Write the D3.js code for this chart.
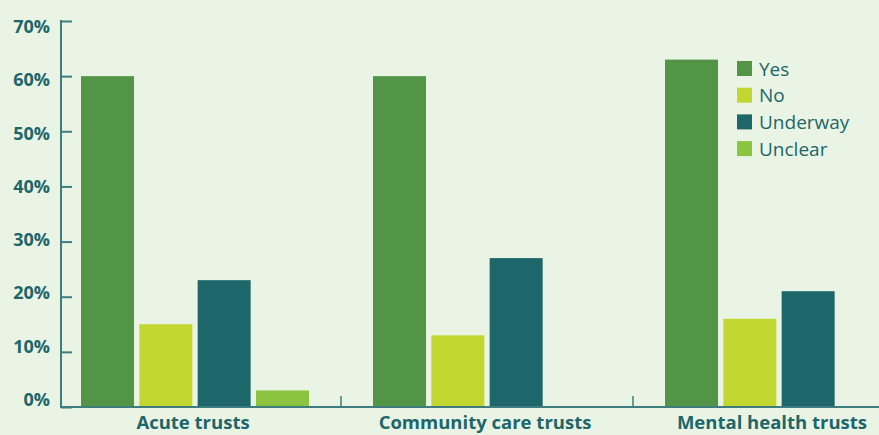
<!DOCTYPE html>
<html>
<head>
<meta charset="utf-8">
<script src="https://cdn.jsdelivr.net/npm/d3@7"></script>
<style>
  html, body { margin: 0; padding: 0; background: #eaf4e4; }
  svg { display: block; }
  text { font-family: "Open Sans", "DejaVu Sans", sans-serif; fill: #1d6669; }
</style>
</head>
<body>
<svg id="chart" width="879" height="435"></svg>
<script>
// Trust types along the x axis
const categories = ["Acute trusts", "Community care trusts", "Mental health trusts"];
// Response series, in legend order
const seriesNames = ["Yes", "No", "Underway", "Unclear"];
const seriesColors = ["#529546", "#c1d72f", "#1d6669", "#8bc43f"];
// Percentage of trusts per series, one value per category
const yesValues      = [60, 60, 63];
const noValues       = [15, 13, 16];
const underwayValues = [23, 27, 21];
const unclearValues  = [3, 0, 0];
// Y axis ticks
const yTicks = [0, 10, 20, 30, 40, 50, 60, 70];
const yTickLabels = ["0%", "10%", "20%", "30%", "40%", "50%", "60%", "70%"];

const seriesValues = [yesValues, noValues, underwayValues, unclearValues];
const rows = categories.map((c, i) => ({
  category: c,
  values: seriesNames.map((s, j) => ({ series: s, value: seriesValues[j][i] }))
}));

const svg = d3.select("#chart");
const W = 879, H = 435;
const axisColor = "#3f7c7d";

const y = d3.scaleLinear().domain([0, 70]).range([407, 21]);
// tick labels sit on a slightly tighter grid than the ticks themselves
const yLabel = d3.scaleLinear().domain([0, 70]).range([399.5, 26.5]);

const x0 = d3.scaleBand().domain(categories).range([49, 925]).paddingInner(0).paddingOuter(0);
const x1 = d3.scaleBand().domain(seriesNames).range([32, 260]).paddingInner(0.091).paddingOuter(0);
const color = d3.scaleOrdinal().domain(seriesNames).range(seriesColors);

// bars
const groups = svg.append("g").selectAll("g")
  .data(rows).join("g")
  .attr("transform", d => `translate(${x0(d.category)},0)`);

groups.selectAll("rect")
  .data(d => d.values.filter(v => v.value > 0))
  .join("rect")
  .attr("x", d => x1(d.series))
  .attr("width", x1.bandwidth())
  .attr("y", d => y(d.value))
  .attr("height", d => y(0) - y(d.value))
  .attr("fill", d => color(d.series));

// y axis: line plus inward ticks
const yAxis = svg.append("g")
  .attr("transform", "translate(61,0)")
  .call(d3.axisRight(y).tickValues(yTicks).tickSize(11).tickFormat(""));
yAxis.select(".domain").remove();
yAxis.selectAll(".tick line").attr("stroke", axisColor).attr("stroke-width", 2);
svg.append("line")
  .attr("x1", 61).attr("x2", 61)
  .attr("y1", y(70) - 1).attr("y2", y(0))
  .attr("stroke", axisColor).attr("stroke-width", 2);

svg.append("g").selectAll("text")
  .data(yTicks).join("text")
  .attr("x", 50)
  .attr("y", d => yLabel(d))
  .attr("dy", "0.36em")
  .attr("text-anchor", "end")
  .attr("font-size", 18)
  .attr("font-weight", 700)
  .text((d, i) => yTickLabels[i]);

// x axis baseline and separators between categories
svg.append("line")
  .attr("x1", 60).attr("x2", W)
  .attr("y1", y(0)).attr("y2", y(0))
  .attr("stroke", axisColor).attr("stroke-width", 2);

svg.append("g").selectAll("line")
  .data(categories.slice(1)).join("line")
  .attr("x1", d => x0(d)).attr("x2", d => x0(d))
  .attr("y1", y(0) - 11).attr("y2", y(0))
  .attr("stroke", axisColor).attr("stroke-width", 1.5);

// category labels, kept inside the right edge
const catLabels = svg.append("g").selectAll("text")
  .data(categories).join("text")
  .attr("x", d => x0(d) + x0.bandwidth() / 2 - 2)
  .attr("y", 429)
  .attr("text-anchor", "middle")
  .attr("font-size", 18.5)
  .attr("font-weight", 700)
  .text(d => d);
catLabels.each(function () {
  const b = this.getBBox();
  const over = b.x + b.width - (W - 12);
  if (over > 0) d3.select(this).attr("x", +d3.select(this).attr("x") - over);
});

// legend
const legend = svg.append("g").selectAll("g")
  .data(seriesNames).join("g")
  .attr("transform", (d, i) => `translate(737,${61 + i * 26.7})`);
legend.append("rect")
  .attr("width", 15).attr("height", 15)
  .attr("fill", d => color(d));
legend.append("text")
  .attr("x", 22).attr("y", 14.5)
  .attr("font-size", 19)
  .text(d => d);
</script>
</body>
</html>
